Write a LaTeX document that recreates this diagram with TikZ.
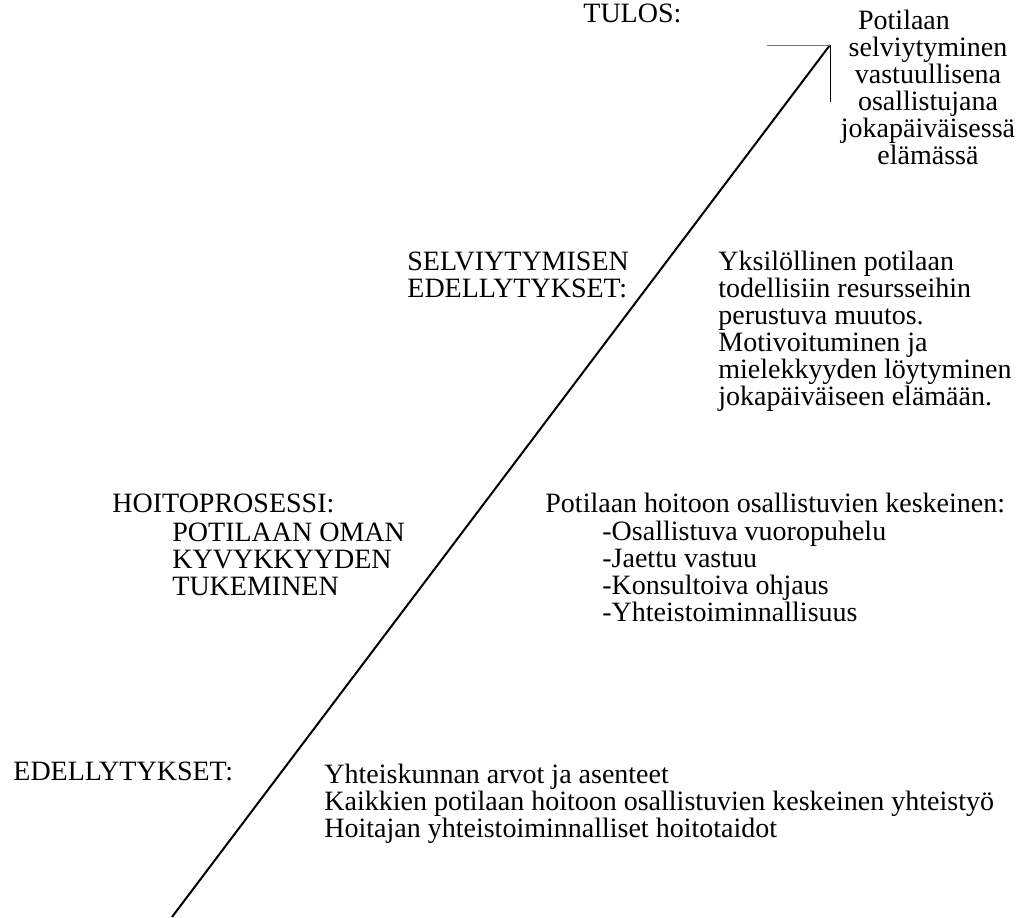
\documentclass[tikz,border=0pt]{standalone}
\usepackage{fontspec}
\setmainfont{Liberation Serif}
\usetikzlibrary{calc}
\newcommand{\diagfont}{\fontsize{14}{13.5}\selectfont\lineskiplimit=-8pt\relax}

\begin{document}
\begin{tikzpicture}[x=0.5pt,y=-0.5pt,
  txt/.style={inner sep=0pt,anchor=base west,align=left,font=\diagfont},
  axisline/.style={line width=1pt},
  headarm/.style={line width=0.5pt}]
  \useasboundingbox (0,0) rectangle (1027,917);

  % Rising axis with open head
  \coordinate (start) at (172,917);
  \coordinate (tip) at (830,45);
  \draw[axisline] (start) -- (tip);
  \draw[headarm,black!55] ($(tip)+(-63,0)$) -- (tip);
  \draw[headarm] (tip) -- ($(tip)+(0,57)$);

  % Outcome (multi-line nodes sit on the baseline of their last line)
  \node[txt] (tulos) at (583,22) {TULOS:};
  \node[txt,anchor=base,align=center] (tulosText) at (928,164)
    {Potilaan\hspace*{24pt}\\selviytyminen\\vastuullisena\\osallistujana\\jokapäiväisessä\\elämässä};

  % Conditions for coping
  \node[txt] (selv) at (407,297) {SELVIYTYMISEN\\EDELLYTYKSET:};
  \node[txt] (selvText) at (718,405)
    {Yksilöllinen potilaan\\todellisiin resursseihin\\perustuva muutos.\\Motivoituminen ja\\mielekkyyden löytyminen\\jokapäiväiseen elämään.};

  % Care process
  \node[txt] (hoito) at (112,512) {HOITOPROSESSI:};
  \node[txt] (hoitoSub) at (172,595) {POTILAAN OMAN\\KYVYKKYYDEN\\TUKEMINEN};
  \node[txt] (hoitoHead) at (545,512) {Potilaan hoitoon osallistuvien keskeinen:};
  \node[txt] (hoitoText) at (602,621)
    {-Osallistuva vuoropuhelu\\-Jaettu vastuu\\-Konsultoiva ohjaus\\-Yhteistoiminnallisuus};

  % Preconditions
  \node[txt] (edel) at (13,780) {EDELLYTYKSET:};
  \node[txt] (edelText) at (324,837)
    {Yhteiskunnan arvot ja asenteet\\Kaikkien potilaan hoitoon osallistuvien keskeinen yhteistyö\\Hoitajan yhteistoiminnalliset hoitotaidot};
\end{tikzpicture}
\end{document}
